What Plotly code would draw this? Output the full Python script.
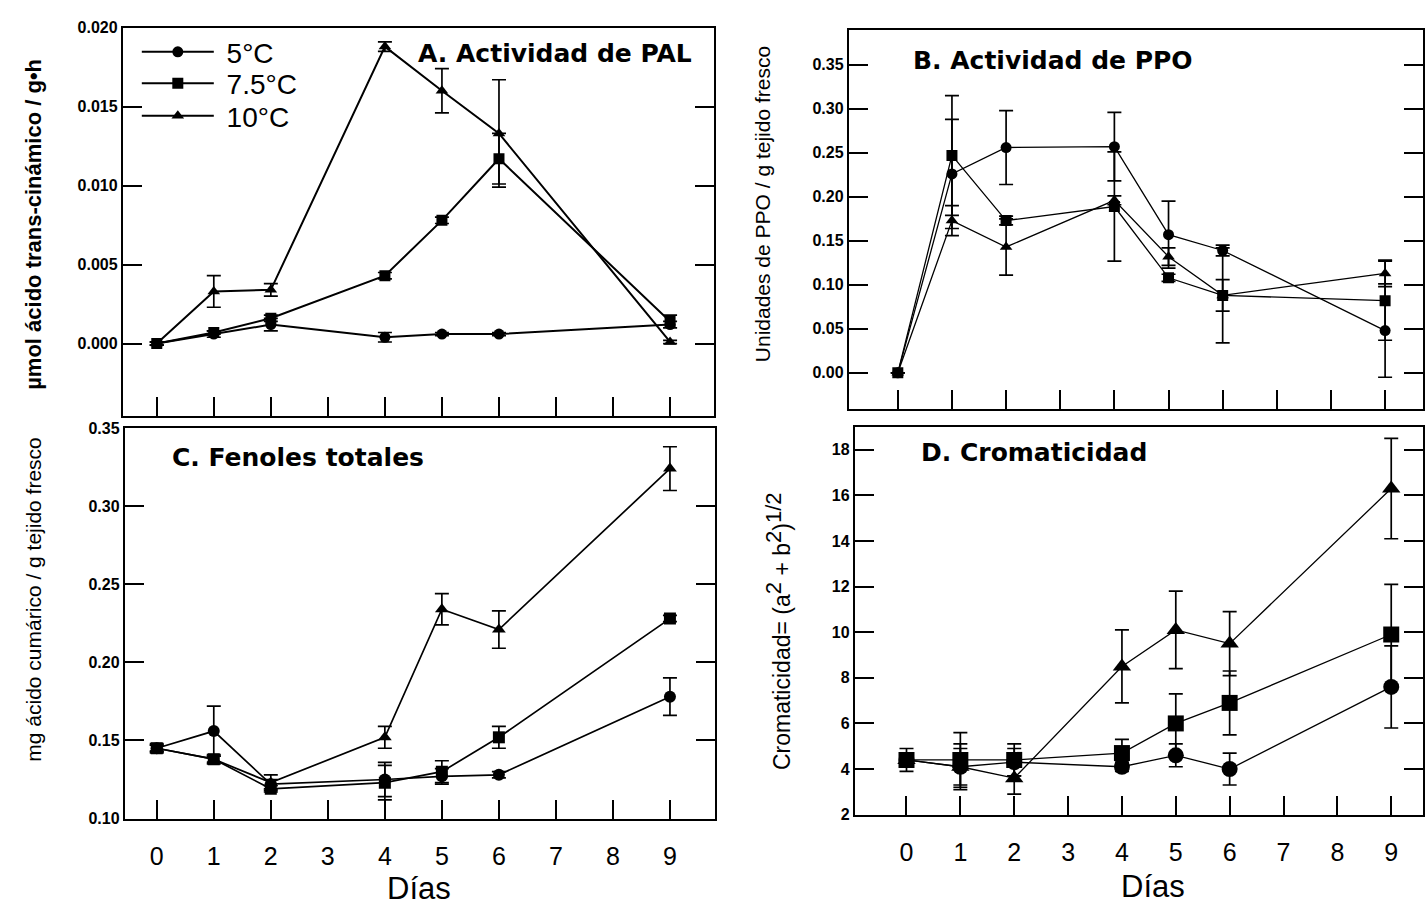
import plotly.graph_objects as go

# Sampling days and storage temperatures
days = [0, 1, 2, 4, 5, 6, 9]
temps = ["5°C", "7.5°C", "10°C"]
symbols = ["circle", "square", "triangle-up"]
day_ticks = [0, 1, 2, 3, 4, 5, 6, 7, 8, 9]

# A. PAL activity (µmol trans-cinnamic acid / g·h)
pal_5 = [0.0, 0.0006, 0.0012, 0.0004, 0.0006, 0.0006, 0.0012]
pal_5_err = [0.0001, 0.0002, 0.0004, 0.0003, 0.0001, 0.0001, 0.0002]
pal_75 = [0.0, 0.0007, 0.0016, 0.0043, 0.0078, 0.0117, 0.0014]
pal_75_err = [0.0001, 0.0001, 0.0002, 0.0002, 0.0002, 0.0016, 0.0004]
pal_10 = [0.0, 0.0033, 0.0034, 0.0188, 0.0160, 0.0133, 0.0001]
pal_10_err = [0.0001, 0.0010, 0.0004, 0.0003, 0.0014, 0.0034, 0.0001]

# B. PPO activity (units / g fresh tissue)
ppo_5 = [0.0, 0.226, 0.256, 0.257, 0.157, 0.139, 0.048]
ppo_5_err = [0.0, 0.062, 0.042, 0.039, 0.038, 0.006, 0.053]
ppo_75 = [0.0, 0.247, 0.173, 0.189, 0.108, 0.088, 0.082]
ppo_75_err = [0.0, 0.068, 0.005, 0.062, 0.004, 0.018, 0.045]
ppo_10 = [0.0, 0.173, 0.143, 0.196, 0.132, 0.088, 0.113]
ppo_10_err = [0.0, 0.017, 0.032, 0.005, 0.010, 0.054, 0.015]

# C. Total phenolics (mg coumaric acid / g fresh tissue)
fen_5 = [0.145, 0.156, 0.122, 0.125, 0.127, 0.128, 0.178]
fen_5_err = [0.002, 0.016, 0.003, 0.011, 0.005, 0.002, 0.012]
fen_75 = [0.145, 0.138, 0.119, 0.123, 0.130, 0.152, 0.228]
fen_75_err = [0.003, 0.003, 0.002, 0.011, 0.007, 0.007, 0.002]
fen_10 = [0.145, 0.138, 0.123, 0.152, 0.234, 0.221, 0.324]
fen_10_err = [0.002, 0.002, 0.005, 0.007, 0.010, 0.012, 0.014]

# D. Chroma
cro_5 = [4.4, 4.1, 4.3, 4.1, 4.6, 4.0, 7.6]
cro_5_err = [0.5, 1.0, 0.6, 0.2, 0.5, 0.7, 1.8]
cro_75 = [4.4, 4.4, 4.4, 4.7, 6.0, 6.9, 9.9]
cro_75_err = [0.3, 1.2, 0.7, 0.6, 1.3, 1.4, 2.2]
cro_10 = [4.4, 4.1, 3.6, 8.5, 10.1, 9.5, 16.3]
cro_10_err = [0.2, 0.8, 0.7, 1.6, 1.7, 1.4, 2.2]

W, H = 1425, 909
SANS = "Liberation Sans, Arial, Helvetica, sans-serif"
WIDE = "DejaVu Sans, Liberation Sans, Arial, sans-serif"


def px_x(p):
    return p / W


def px_y(p):
    return 1 - p / H


panels = [
    dict(ax="", vals=[pal_5, pal_75, pal_10], errs=[pal_5_err, pal_75_err, pal_10_err],
         xpx=(123, 715), ypx=(20, 416), xr=[-0.595, 9.77], yr=[-0.0046, 0.0200],
         yt=[0.0, 0.005, 0.010, 0.015, 0.020], fmt=".3f", ms=11, lw=2.0, legend=True),
    dict(ax="2", vals=[ppo_5, ppo_75, ppo_10], errs=[ppo_5_err, ppo_75_err, ppo_10_err],
         xpx=(850, 1425), ypx=(22, 409), xr=[-0.905, 9.70], yr=[-0.0415, 0.390],
         yt=[0.0, 0.05, 0.10, 0.15, 0.20, 0.25, 0.30, 0.35], fmt=".2f", ms=11, lw=1.3, legend=False),
    dict(ax="3", vals=[fen_5, fen_75, fen_10], errs=[fen_5_err, fen_75_err, fen_10_err],
         xpx=(125, 716), ypx=(428, 826), xr=[-0.56, 9.79], yr=[0.10, 0.35],
         yt=[0.10, 0.15, 0.20, 0.25, 0.30, 0.35], fmt=".2f", ms=12, lw=1.7, legend=False),
    dict(ax="4", vals=[cro_5, cro_75, cro_10], errs=[cro_5_err, cro_75_err, cro_10_err],
         xpx=(856, 1425), ypx=(427, 822), xr=[-0.96, 9.59], yr=[2, 19],
         yt=[2, 4, 6, 8, 10, 12, 14, 16, 18], fmt="d", ms=16, lw=1.3, legend=False),
]

legend_keys = ["legend", "legend2", "legend3"]
legend_rows = [45, 77, 110]

fig = go.Figure()

for p in panels:
    for i in range(3):
        fig.add_trace(go.Scatter(
            x=days, y=p["vals"][i],
            mode="lines+markers",
            name="\u00a0" + temps[i],
            legend=legend_keys[i],
            showlegend=p["legend"],
            line=dict(color="black", width=p["lw"]),
            marker=dict(symbol=symbols[i], size=p["ms"], color="black"),
            error_y=dict(type="data", array=p["errs"][i], visible=True,
                         color="black", thickness=1.7, width=7),
            xaxis="x" + p["ax"], yaxis="y" + p["ax"],
        ))

layout = dict(
    width=W, height=H,
    margin=dict(l=0, r=0, t=0, b=0),
    paper_bgcolor="white", plot_bgcolor="white",
    showlegend=True,
)

# One legend box per temperature so each row sits at its own height
for key, row in zip(legend_keys, legend_rows):
    layout[key] = dict(x=px_x(137), y=px_y(row), xanchor="left", yanchor="middle",
                       font=dict(family=SANS, size=28, color="black"),
                       bgcolor="rgba(0,0,0,0)", itemwidth=72, itemsizing="trace")

bottom_row = {"3", "4"}
for p in panels:
    key = p["ax"]
    xa = dict(
        domain=[px_x(p["xpx"][0]), min(1.0, px_x(p["xpx"][1]))],
        range=p["xr"], tickmode="array", tickvals=day_ticks,
        ticktext=[str(d) for d in day_ticks] if key in bottom_row else [""] * 10,
        ticks="inside", ticklen=19, tickwidth=2, tickcolor="black",
        showline=True, linecolor="black", linewidth=2, mirror=True,
        showgrid=False, zeroline=False, ticklabelstandoff=14,
        tickfont=dict(family=SANS, size=25, color="black"),
        anchor="y" + key,
    )
    ya = dict(
        domain=[px_y(p["ypx"][1]), px_y(p["ypx"][0])],
        range=p["yr"], tickmode="array", tickvals=p["yt"], tickformat=p["fmt"],
        ticks="inside", ticklen=19, tickwidth=2, tickcolor="black",
        showline=True, linecolor="black", linewidth=2, mirror="ticks",
        showgrid=False, zeroline=False,
        tickfont=dict(family=SANS, size=16, color="black", weight="bold"),
        anchor="x" + key,
    )
    layout["xaxis" + key] = xa
    layout["yaxis" + key] = ya

fig.update_layout(**layout)

# Panel titles
titles = [
    ("A. Actividad de PAL", 417, 46),
    ("B. Actividad de PPO", 912, 53),
    ("C. Fenoles totales", 170, 458),
    ("D. Cromaticidad", 920, 453),
]
for text, x, y in titles:
    fig.add_annotation(text=text, x=px_x(x), y=px_y(y), xref="paper", yref="paper",
                       xanchor="left", yanchor="middle", showarrow=False,
                       font=dict(family=WIDE, size=25, color="black", weight="bold"))

# Y axis titles
sup = "<sup><span style='font-size:22px'>{}</span></sup>"
ytitles = [
    ("µmol ácido trans-cinámico / g•h", 34, 220, 22, "bold"),
    ("Unidades de PPO / g tejido fresco", 763, 200, 21, "normal"),
    ("mg ácido cumárico / g tejido fresco", 34, 603, 21, "normal"),
    ("Cromaticidad= (a" + sup.format("2") + " + b" + sup.format("2") + ")" + sup.format("1/2"),
     779, 635, 23, "normal"),
]
for text, x, y, size, weight in ytitles:
    fig.add_annotation(text=text, x=px_x(x), y=px_y(y), xref="paper", yref="paper",
                       xanchor="center", yanchor="middle", showarrow=False, textangle=-90,
                       font=dict(family=SANS, size=size, color="black", weight=weight))

# X axis titles
for x, y in [(420, 897), (1155, 895)]:
    fig.add_annotation(text="Días", x=px_x(x), y=px_y(y), xref="paper", yref="paper",
                       xanchor="center", yanchor="middle", showarrow=False,
                       font=dict(family=SANS, size=31, color="black"))

fig.write_html("out.html")
